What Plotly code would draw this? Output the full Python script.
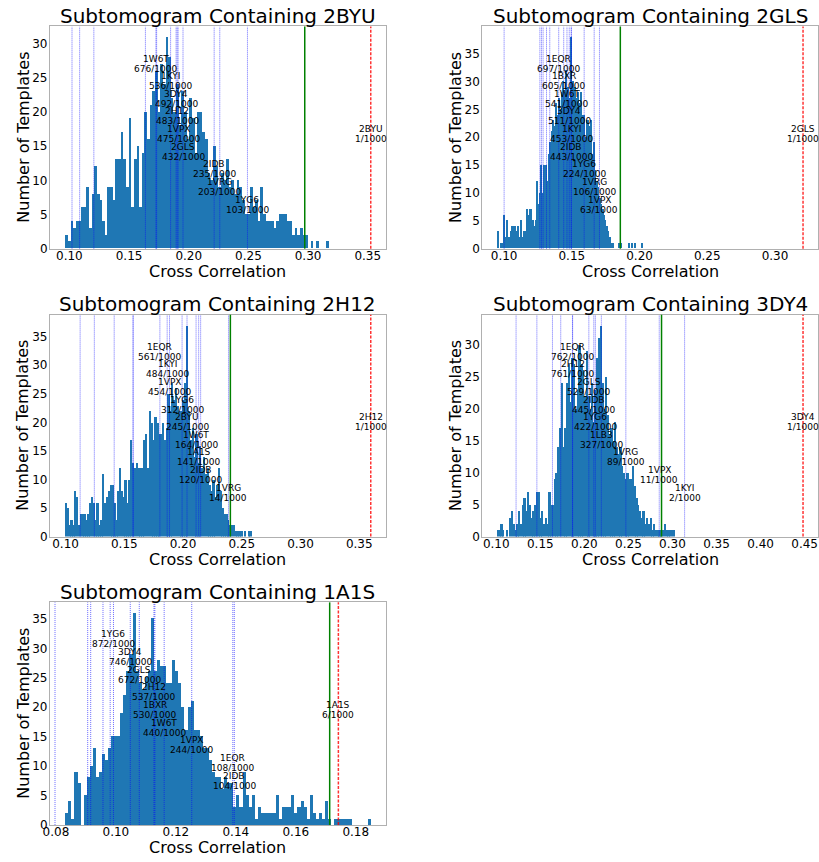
import numpy as np
import plotly.graph_objects as go

W, H = 819, 862

# ---------------- DATA ----------------
# Panel 1: subtomogram containing 2BYU
p1_name = "2BYU"
p1_counts = [2, 1, 4, 3, 4, 4, 6, 6, 9, 3, 8, 12, 8, 7, 4, 2, 9, 9, 7, 13,
             13, 17, 13, 9, 19, 6, 13, 15, 6, 14, 20, 16, 21, 23, 26, 20, 27, 24, 31, 28,
             22, 20, 24, 18, 23, 20, 16, 22, 19, 14, 20, 20, 17, 16, 11, 10, 15, 12, 9, 11,
             10, 13, 9, 10, 8, 10, 9, 7, 5, 5, 9, 6, 7, 4, 9, 5, 4, 4, 4, 3,
             4, 5, 5, 5, 4, 4, 2, 3, 2, 3, 2, 2, 0, 1, 0, 1, 0, 0, 0, 1]
p1_hist_range = [0.0965, 0.3175]
p1_true = 0.3525
p1_true_rank = "1/1000"
p1_green = 0.2972
p1_other_lines = [0.1022, 0.1086, 0.1205, 0.1637, 0.1731]
p1_labels = ["1W6T", "1KYI", "3DY4", "2H12", "1VPX", "2GLS", "2IDB", "1VRG", "1YG6"]
p1_label_x = [0.1725, 0.1848, 0.1894, 0.1903, 0.1911, 0.1952, 0.2213, 0.2260, 0.2492]
p1_ranks = [676, 536, 492, 483, 475, 432, 235, 203, 103]

# Panel 2: subtomogram containing 2GLS
p2_name = "2GLS"
p2_counts = [3, 0, 1, 1, 6, 2, 5, 2, 2, 3, 4, 4, 4, 3, 4, 2, 5, 2, 3, 3,
             7, 6, 7, 7, 5, 4, 5, 12, 8, 10, 15, 10, 15, 15, 12, 17, 19, 21, 23, 22,
             26, 24, 27, 25, 28, 30, 28, 32, 29, 27, 38, 27, 30, 29, 27, 28, 26, 28, 24, 24,
             20, 23, 23, 22, 23, 17, 19, 14, 12, 11, 9, 8, 7, 6, 5, 4, 3, 2, 1, 1,
             0, 0, 0, 1, 1, 1, 0, 0, 0, 0, 1, 0, 1, 0, 1, 0, 0, 0, 0, 1]
p2_hist_range = [0.0951, 0.2025]
p2_true = 0.3207
p2_true_rank = "1/1000"
p2_green = 0.1858
p2_other_lines = [0.1000, 0.1264, 0.1276, 0.1288, 0.1313, 0.1337]
p2_labels = ["1EQR", "1BXR", "1W6T", "3DY4", "1KYI", "2IDB", "1YG6", "1VRG", "1VPX"]
p2_label_x = [0.1403, 0.1440, 0.1464, 0.1481, 0.1495, 0.1497, 0.1591, 0.1665, 0.1704]
p2_ranks = [697, 605, 541, 511, 453, 443, 224, 106, 63]

# Panel 3: subtomogram containing 2H12
p3_name = "2H12"
p3_counts = [6, 5, 2, 3, 2, 8, 7, 2, 4, 4, 4, 3, 4, 6, 7, 6, 3, 6, 2, 3,
             11, 6, 7, 8, 9, 9, 6, 3, 8, 12, 8, 7, 10, 6, 10, 17, 13, 12, 13, 12,
             12, 12, 17, 18, 12, 22, 20, 17, 21, 20, 18, 18, 20, 17, 19, 25, 22, 27, 24, 26,
             23, 22, 22, 24, 27, 37, 22, 17, 19, 14, 18, 13, 16, 12, 14, 11, 12, 9, 8, 10,
             7, 9, 12, 8, 5, 4, 4, 3, 2, 2, 2, 1, 1, 1, 1, 0, 1, 0, 1, 1]
p3_hist_range = [0.0997, 0.2585]
p3_true = 0.3598
p3_true_rank = "1/1000"
p3_green = 0.2403
p3_other_lines = [0.1124, 0.1245, 0.1414, 0.1574, 0.1576]
p3_labels = ["1EQR", "1KYI", "1VPX", "1YG6", "2BYU", "1W6T", "1A1S", "2IDB", "1VRG"]
p3_label_x = [0.1803, 0.1865, 0.1885, 0.1992, 0.2034, 0.2111, 0.2133, 0.2150, 0.2387]
p3_ranks = [561, 484, 454, 312, 245, 164, 141, 120, 14]

# Panel 4: subtomogram containing 3DY4
p4_name = "3DY4"
p4_counts = [1, 1, 2, 1, 0, 1, 0, 3, 4, 2, 1, 2, 4, 2, 5, 6, 4, 7, 5, 3,
             4, 5, 7, 7, 3, 4, 2, 3, 2, 7, 5, 5, 9, 10, 14, 17, 24, 14, 17, 24,
             27, 21, 28, 27, 20, 23, 30, 27, 26, 22, 29, 22, 20, 24, 18, 23, 28, 31, 33, 24,
             20, 25, 19, 16, 17, 15, 18, 14, 13, 14, 11, 10, 9, 10, 9, 9, 11, 8, 6, 5,
             4, 3, 4, 2, 3, 2, 3, 1, 2, 1, 1, 1, 1, 1, 2, 1, 1, 1, 1, 1]
p4_hist_range = [0.1014, 0.3030]
p4_true = 0.4482
p4_true_rank = "1/1000"
p4_green = 0.2876
p4_other_lines = [0.1225, 0.1461, 0.1638, 0.1732]
p4_labels = ["1EQR", "2H12", "2GLS", "2IDB", "1YG6", "1LB3", "1VRG", "1VPX", "1KYI"]
p4_label_x = [0.1865, 0.1867, 0.2051, 0.2107, 0.2125, 0.2193, 0.2471, 0.2850, 0.3138]
p4_ranks = [762, 761, 529, 445, 422, 327, 89, 11, 2]

# Panel 5: subtomogram containing 1A1S
p5_name = "1A1S"
p5_counts = [2, 4, 1, 9, 7, 0, 5, 8, 10, 13, 8, 9, 12, 11, 13, 15, 15, 15, 19, 22,
             26, 29, 36, 26, 24, 23, 25, 26, 35, 26, 28, 27, 27, 24, 24, 28, 26, 24, 20, 16,
             20, 21, 16, 16, 15, 13, 13, 11, 9, 8, 8, 6, 8, 7, 7, 3, 5, 3, 9, 5,
             3, 5, 1, 3, 2, 2, 2, 2, 2, 5, 1, 3, 3, 3, 5, 2, 3, 4, 3, 1,
             5, 2, 1, 2, 1, 4, 1, 0, 1, 1, 1, 1, 1, 1, 0, 0, 0, 0, 0, 1]
p5_hist_range = [0.0831, 0.1850]
p5_true = 0.1742
p5_true_rank = "6/1000"
p5_green = 0.1713
p5_other_lines = [0.0797, 0.0906, 0.0916, 0.0957, 0.0981]
p5_labels = ["1YG6", "3DY4", "2GLS", "2H12", "1BXR", "1W6T", "1VPX", "1EQR", "2IDB"]
p5_label_x = [0.0992, 0.1048, 0.1078, 0.1127, 0.1130, 0.1161, 0.1253, 0.1390, 0.1395]
p5_ranks = [872, 746, 672, 537, 530, 440, 244, 108, 104]

# ---------------- FIGURE ----------------
panels = [
    dict(name=p1_name, counts=p1_counts, rng=p1_hist_range, true=p1_true, true_rank=p1_true_rank,
         green=p1_green, others=p1_other_lines, labels=p1_labels, label_x=p1_label_x, ranks=p1_ranks, dtick=0.05),
    dict(name=p2_name, counts=p2_counts, rng=p2_hist_range, true=p2_true, true_rank=p2_true_rank,
         green=p2_green, others=p2_other_lines, labels=p2_labels, label_x=p2_label_x, ranks=p2_ranks, dtick=0.05),
    dict(name=p3_name, counts=p3_counts, rng=p3_hist_range, true=p3_true, true_rank=p3_true_rank,
         green=p3_green, others=p3_other_lines, labels=p3_labels, label_x=p3_label_x, ranks=p3_ranks, dtick=0.05),
    dict(name=p4_name, counts=p4_counts, rng=p4_hist_range, true=p4_true, true_rank=p4_true_rank,
         green=p4_green, others=p4_other_lines, labels=p4_labels, label_x=p4_label_x, ranks=p4_ranks, dtick=0.05),
    dict(name=p5_name, counts=p5_counts, rng=p5_hist_range, true=p5_true, true_rank=p5_true_rank,
         green=p5_green, others=p5_other_lines, labels=p5_labels, label_x=p5_label_x, ranks=p5_ranks, dtick=0.02),
]

# plot-area boxes in pixels (left, right, top, bottom)
boxes = [(43.3, 382.3, 26.7, 250.7), (479.3, 818.3, 26.7, 250.7),
         (43.3, 382.3, 317.3, 541.0), (479.3, 818.3, 317.3, 541.0),
         (43.3, 382.3, 607.3, 831.7)]

FONT = "DejaVu Sans"
BAR = "#1f77b4"
SPINE = "#b0b0b0"

fig = go.Figure()
layout = dict(width=W, height=H, margin=dict(l=0, r=0, t=0, b=0),
              paper_bgcolor="white", plot_bgcolor="white",
              font=dict(family=FONT, color="black"), showlegend=False, bargap=0)
shapes, annotations = [], []

for i, p in enumerate(panels):
    n = i + 1
    xa = "x" if n == 1 else f"x{n}"
    ya = "y" if n == 1 else f"y{n}"
    xkey = "xaxis" if n == 1 else f"xaxis{n}"
    ykey = "yaxis" if n == 1 else f"yaxis{n}"
    counts = np.array(p["counts"], dtype=float)
    edges = np.linspace(p["rng"][0], p["rng"][1], len(counts) + 1)
    centers = (edges[:-1] + edges[1:]) / 2
    width = edges[1] - edges[0]
    fig.add_trace(go.Bar(x=centers, y=counts, width=width, xaxis=xa, yaxis=ya,
                         marker=dict(color=BAR, line=dict(width=0)), hoverinfo="skip"))

    lo_all = min(p["rng"][0], p["true"])
    hi_all = max(p["rng"][1], p["true"])
    span = hi_all - lo_all
    xr = [lo_all - 0.05 * span, hi_all + 0.05 * span]
    cmax = counts.max()
    x0, x1, y0, y1 = boxes[i]

    layout[xkey] = dict(domain=[x0 / W, x1 / W], range=xr, anchor=ya, dtick=p["dtick"], tick0=0,
                        tickformat=".2f", showline=True, mirror=True, linecolor=SPINE, linewidth=1,
                        ticks="", showgrid=False, zeroline=False, ticklabelstandoff=-4,
                        tickfont=dict(size=12, color="black", family=FONT))
    layout[ykey] = dict(domain=[1 - y1 / H, 1 - y0 / H], range=[0, cmax * 1.05], anchor=xa, dtick=5,
                        tick0=0, showline=True, mirror=True, linecolor=SPINE, linewidth=1,
                        ticks="", showgrid=False, zeroline=False, ticklabelstandoff=-1,
                        tickfont=dict(size=12, color="black", family=FONT))

    yd = f"{ya} domain"
    for xv in list(p["others"]) + list(p["label_x"]):
        shapes.append(dict(type="line", xref=xa, yref=yd, x0=xv, x1=xv, y0=0, y1=1, layer="above",
                           line=dict(color="rgba(0,0,255,0.65)", width=0.9, dash="1px,1px")))
    shapes.append(dict(type="line", xref=xa, yref=yd, x0=p["green"], x1=p["green"], y0=0, y1=1,
                       layer="above", line=dict(color="#008000", width=1.5)))
    shapes.append(dict(type="line", xref=xa, yref=yd, x0=p["true"], x1=p["true"], y0=0, y1=1,
                       layer="above", line=dict(color="rgba(255,0,0,0.8)", width=1.5, dash="3px,1.5px")))

    lf = dict(size=9, color="black", family=FONT)
    for j, (nm, xv, rk) in enumerate(zip(p["labels"], p["label_x"], p["ranks"])):
        yv = cmax * (0.875 - j / 12.0)
        annotations.append(dict(x=xv, y=yv, xref=xa, yref=ya, text=nm, showarrow=False, font=lf,
                                xanchor="center", yanchor="middle", yshift=5))
        annotations.append(dict(x=xv, y=yv, xref=xa, yref=ya, text=f"{rk}/1000", showarrow=False,
                                font=lf, xanchor="center", yanchor="middle", yshift=-5))
    yv = cmax * 0.54
    annotations.append(dict(x=p["true"], y=yv, xref=xa, yref=ya, text=p["name"], showarrow=False,
                            font=lf, xanchor="center", yanchor="middle", yshift=5))
    annotations.append(dict(x=p["true"], y=yv, xref=xa, yref=ya, text=p["true_rank"], showarrow=False,
                            font=lf, xanchor="center", yanchor="middle", yshift=-5))

    # title and axis titles
    annotations.append(dict(x=(x0 + x1) / 2 / W, y=1 - (y0 - 10.5) / H, xref="paper", yref="paper",
                            text=f"Subtomogram Containing {p['name']}", showarrow=False,
                            font=dict(size=20, color="black", family=FONT),
                            xanchor="center", yanchor="middle"))
    annotations.append(dict(x=(x0 + x1) / 2 / W, y=1 - (y1 + 23) / H, xref="paper", yref="paper",
                            text="Cross Correlation", showarrow=False,
                            font=dict(size=16, color="black", family=FONT),
                            xanchor="center", yanchor="middle"))
    annotations.append(dict(x=(x0 - 27) / W, y=1 - (y0 + y1) / 2 / H, xref="paper", yref="paper",
                            text="Number of Templates", showarrow=False, textangle=-90,
                            font=dict(size=16, color="black", family=FONT),
                            xanchor="center", yanchor="middle"))

layout["shapes"] = shapes
layout["annotations"] = annotations
fig.update_layout(**layout)
fig.write_html("out.html", config={"displayModeBar": False},
               post_script="document.body.style.margin='0';document.body.style.overflow='hidden';")
